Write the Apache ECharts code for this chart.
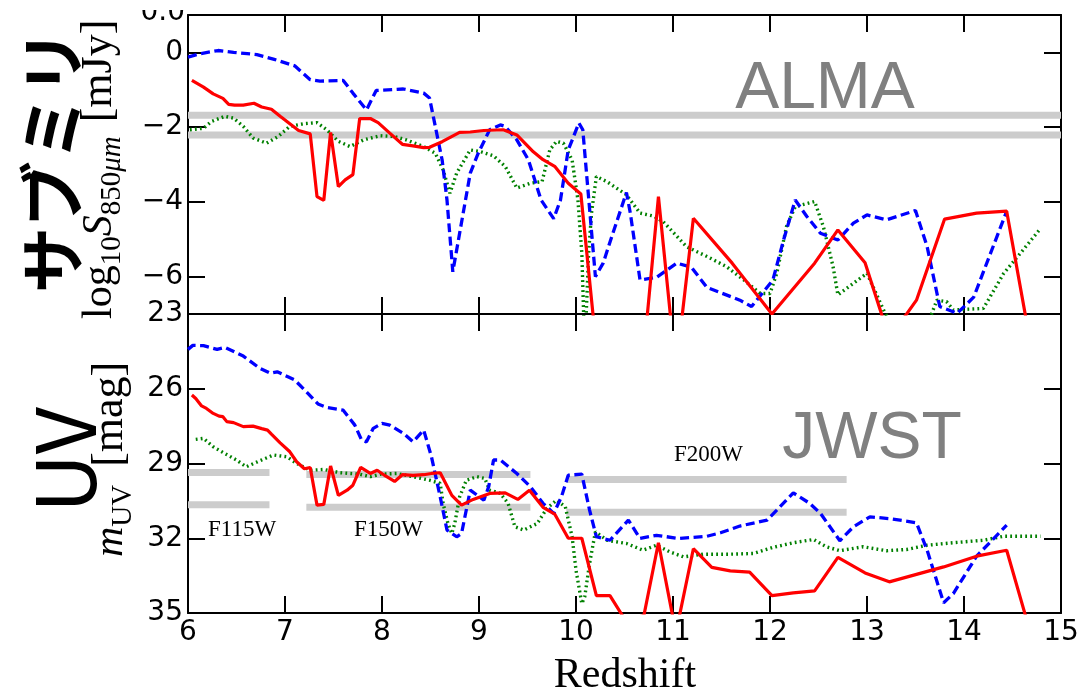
<!DOCTYPE html>
<html><head><meta charset="utf-8">
<script src="https://cdn.jsdelivr.net/npm/echarts@6/dist/echarts.min.js"></script>
<style>html,body{margin:0;padding:0;background:#fff}#c{width:1084px;height:691px}</style>
</head><body><div id="c"></div>
<script>
// ---------- data ----------
const redTop = [[6.04,-0.75],[6.16,-0.93],[6.26,-1.11],[6.36,-1.23],[6.42,-1.39],[6.48,-1.41],[6.57,-1.41],[6.68,-1.36],[6.76,-1.46],[6.86,-1.52],[6.95,-1.71],[7.05,-1.91],[7.14,-2.09],[7.26,-2.18],[7.33,-3.86],[7.40,-3.96],[7.47,-2.14],[7.55,-3.59],[7.62,-3.41],[7.70,-3.27],[7.77,-1.77],[7.88,-1.77],[7.96,-1.88],[8.08,-2.16],[8.21,-2.46],[8.32,-2.50],[8.43,-2.55],[8.49,-2.54],[8.62,-2.39],[8.80,-2.14],[8.91,-2.13],[9.05,-2.09],[9.25,-2.07],[9.39,-2.21],[9.56,-2.66],[9.66,-2.87],[9.78,-3.05],[9.92,-3.50],[10.05,-3.79],[10.21,-7.9],[10.35,-9.0],[10.51,-9.5],[10.70,-8.0],[10.85,-3.86],[11.03,-8.5],[11.21,-4.44],[11.61,-5.64],[12.02,-7.0],[12.46,-5.64],[12.70,-4.75],[12.98,-5.63],[13.23,-7.65],[13.51,-6.63],[13.80,-4.46],[14.13,-4.30],[14.44,-4.25],[14.70,-8.0]];
const blueTop = [[6.0,-0.125],[6.12,-0.04],[6.31,0.05],[6.47,0.0],[6.71,-0.06],[6.88,-0.18],[7.10,-0.36],[7.26,-0.73],[7.36,-0.77],[7.60,-0.75],[7.70,-1.09],[7.84,-1.54],[7.94,-1.02],[8.22,-0.98],[8.43,-1.09],[8.49,-1.22],[8.62,-2.88],[8.67,-3.95],[8.73,-5.87],[8.91,-3.23],[8.99,-2.71],[9.11,-2.07],[9.22,-1.94],[9.27,-1.98],[9.39,-2.34],[9.51,-2.88],[9.64,-3.95],[9.77,-4.45],[9.84,-3.95],[9.92,-2.61],[10.03,-1.89],[10.07,-2.07],[10.20,-6.0],[10.28,-5.64],[10.38,-4.84],[10.52,-3.75],[10.56,-4.30],[10.66,-6.09],[10.83,-6.02],[11.04,-5.64],[11.19,-5.75],[11.35,-6.29],[11.49,-6.43],[11.69,-6.63],[11.81,-6.80],[12.03,-6.09],[12.14,-5.02],[12.26,-3.95],[12.38,-4.39],[12.52,-4.84],[12.70,-5.02],[12.86,-4.57],[13.0,-4.35],[13.20,-4.48],[13.50,-4.23],[13.62,-5.20],[13.75,-6.80],[13.93,-6.98],[14.10,-6.55],[14.44,-4.25]];
const greenTop = [[6.02,-2.07],[6.16,-2.03],[6.24,-1.85],[6.38,-1.71],[6.47,-1.76],[6.57,-1.98],[6.67,-2.29],[6.81,-2.43],[6.93,-2.25],[7.05,-1.98],[7.19,-1.91],[7.33,-1.88],[7.43,-2.07],[7.55,-2.38],[7.67,-2.52],[7.81,-2.34],[7.98,-2.23],[8.12,-2.25],[8.25,-2.34],[8.43,-2.52],[8.55,-2.70],[8.63,-3.14],[8.70,-3.77],[8.77,-3.23],[8.91,-2.61],[9.01,-2.65],[9.15,-2.77],[9.27,-3.05],[9.39,-3.63],[9.53,-3.50],[9.65,-3.46],[9.73,-2.61],[9.80,-2.38],[9.87,-2.43],[9.96,-2.88],[10.02,-3.95],[10.06,-5.38],[10.09,-8.0],[10.13,-5.38],[10.16,-4.30],[10.21,-3.32],[10.32,-3.46],[10.52,-3.81],[10.66,-4.30],[10.80,-4.38],[10.90,-4.53],[11.14,-5.20],[11.35,-5.46],[11.55,-5.73],[11.73,-6.09],[11.90,-6.45],[12.0,-6.45],[12.07,-5.91],[12.17,-4.66],[12.26,-4.13],[12.46,-3.99],[12.55,-4.66],[12.65,-5.73],[12.70,-6.49],[12.86,-6.18],[13.0,-5.91],[13.17,-6.89],[13.40,-8.0],[13.55,-7.8],[13.72,-6.63],[13.82,-6.67],[13.89,-6.89],[14.20,-6.85],[14.41,-5.91],[14.58,-5.38],[14.79,-4.71]];

const redUV = [[6.04,26.25],[6.08,26.39],[6.14,26.69],[6.19,26.79],[6.26,26.99],[6.32,27.10],[6.36,27.12],[6.40,27.32],[6.47,27.36],[6.57,27.52],[6.67,27.50],[6.76,27.60],[6.82,27.66],[6.86,27.82],[6.95,28.17],[7.05,28.53],[7.12,28.93],[7.20,29.21],[7.26,29.16],[7.33,30.67],[7.40,30.64],[7.47,29.10],[7.55,30.28],[7.64,30.07],[7.70,29.87],[7.78,29.16],[7.88,29.40],[7.95,29.27],[8.04,29.51],[8.13,29.72],[8.21,29.45],[8.32,29.48],[8.43,29.45],[8.51,29.40],[8.60,29.37],[8.72,30.28],[8.82,30.67],[8.94,30.44],[9.11,30.20],[9.27,30.18],[9.40,30.44],[9.52,30.07],[9.66,30.76],[9.78,31.03],[9.92,32.00],[10.06,32.00],[10.21,34.30],[10.35,34.30],[10.51,35.3],[10.70,35.1],[10.85,32.18],[11.03,35.8],[11.21,32.42],[11.40,33.17],[11.59,33.31],[11.79,33.36],[12.02,34.30],[12.24,34.19],[12.46,34.11],[12.70,32.77],[12.98,33.39],[13.23,33.75],[13.51,33.45],[13.79,33.15],[14.13,32.72],[14.44,32.48],[14.70,36.0]];
const blueUV = [[6.0,24.42],[6.05,24.26],[6.16,24.27],[6.30,24.42],[6.38,24.34],[6.57,24.69],[6.74,25.18],[6.85,25.38],[6.92,25.32],[7.10,25.65],[7.22,26.12],[7.34,26.61],[7.43,26.75],[7.60,26.86],[7.72,27.46],[7.79,28.06],[7.84,28.13],[7.91,27.59],[8.0,27.39],[8.08,27.46],[8.22,27.79],[8.32,28.13],[8.43,27.66],[8.51,28.73],[8.60,30.34],[8.67,31.67],[8.77,31.94],[8.82,31.81],[8.91,30.07],[9.05,30.47],[9.10,29.93],[9.15,28.86],[9.22,28.86],[9.39,29.40],[9.53,29.93],[9.66,30.60],[9.77,31.0],[9.85,30.34],[9.92,29.47],[10.06,29.43],[10.14,30.87],[10.21,31.94],[10.35,32.08],[10.54,31.27],[10.66,32.01],[10.83,31.88],[11.06,32.01],[11.35,31.92],[11.49,31.78],[11.69,31.51],[11.97,31.27],[12.07,30.87],[12.24,30.18],[12.41,30.60],[12.52,31.0],[12.72,32.10],[12.86,31.54],[13.03,31.14],[13.25,31.22],[13.51,31.38],[13.62,32.48],[13.79,34.59],[13.89,34.22],[14.13,32.72],[14.44,31.47]];
const greenUV = [[6.08,28.03],[6.16,27.99],[6.26,28.33],[6.38,28.60],[6.50,28.86],[6.60,29.13],[6.74,28.89],[6.88,28.66],[7.02,28.73],[7.12,29.0],[7.26,29.27],[7.40,29.24],[7.57,29.37],[7.77,29.43],[7.88,29.53],[7.98,29.43],[8.15,29.40],[8.32,29.53],[8.49,29.67],[8.60,29.80],[8.63,30.60],[8.68,31.41],[8.72,31.81],[8.75,31.41],[8.80,30.34],[8.87,29.67],[8.98,29.53],[9.06,29.60],[9.11,30.07],[9.22,30.20],[9.30,30.60],[9.37,31.54],[9.46,31.67],[9.60,31.41],[9.70,30.80],[9.80,30.47],[9.89,30.74],[9.96,31.94],[10.0,33.28],[10.06,34.62],[10.09,34.35],[10.14,33.01],[10.20,31.74],[10.32,32.08],[10.52,32.21],[10.69,32.48],[10.83,32.28],[10.97,32.55],[11.11,32.75],[11.31,32.64],[11.59,32.64],[11.83,32.61],[12.03,32.37],[12.24,32.18],[12.45,32.05],[12.58,32.34],[12.72,32.50],[12.96,32.34],[13.20,32.50],[13.41,32.45],[13.62,32.28],[13.89,32.18],[14.20,32.08],[14.41,31.92],[14.79,31.92]];

const almaLimits = [-1.68, -2.21];
const filterNames = ['F115W', 'F150W', 'F200W'];
const filterStart = [6.0, 7.22, 9.9];
const filterEnd = [6.84, 9.53, 12.79];
const filterBright = [29.36, 29.44, 29.64];
const filterFaint = [30.66, 30.76, 30.96];

const zRange = [6, 15];
const zTicks = [6, 7, 8, 9, 10, 11, 12, 13, 14, 15];
const yTicksTop = [-6, -4, -2, 0];
const yRangeTop = [-7, 1];
const yTicksUV = [23, 26, 29, 32, 35];
const yRangeUV = [23, 35];

// ---------- chart ----------
const chart = echarts.init(document.getElementById('c'), null, {renderer: 'canvas', width: 1084, height: 691});
const L = 188, R = 23, T = 15, H = 299;
function tickOpt(vals) {
  return {show: true, inside: true, length: 17, customValues: vals, lineStyle: {color: '#000', width: 2}};
}
function labOpt(vals, margin) {
  return {show: true, customValues: vals, fontFamily: 'DejaVu Sans', fontSize: 28, color: '#000', margin: margin,
    formatter: v => (v < 0 ? '\u2212' : '') + Math.abs(v)};
}
function xAx(grid, pos, showLab) {
  return {type: 'value', gridIndex: grid, position: pos, min: zRange[0], max: zRange[1],
    axisLine: {show: true, onZero: false, lineStyle: {color: '#000', width: 2}},
    axisTick: tickOpt(zTicks.slice(1, -1)), splitLine: {show: false},
    axisLabel: showLab ? labOpt(zTicks, 6) : {show: false}};
}
function yAx(grid, pos, range, ticks, showLab, inverse) {
  return {type: 'value', gridIndex: grid, position: pos, min: range[0], max: range[1], inverse: !!inverse,
    axisLine: {show: true, onZero: false, lineStyle: {color: '#000', width: 2}}, splitLine: {show: false},
    axisTick: tickOpt(ticks),
    axisLabel: showLab ? labOpt(ticks, 5) : {show: false}};
}
function line(data, xi, yi, ls, z) {
  return {type: 'line', xAxisIndex: xi, yAxisIndex: yi, data: data, showSymbol: false, symbol: 'none',
    silent: true, animation: false, clip: true, z: z, lineStyle: ls};
}
const redS = {color: '#ff0000', width: 3.2};
const blueS = {color: '#0000ff', width: 3.3, type: [9, 4.5]};
const greenS = {color: '#008000', width: 3.4, type: [1.8, 3.2]};
const grayS = {color: '#cccccc', width: 7};

const series = [];
almaLimits.forEach(v => series.push(line([[zRange[0], v], [zRange[1], v]], 0, 0, grayS, 1)));
filterNames.forEach((n, i) => {
  series.push(line([[filterStart[i], filterBright[i]], [filterEnd[i], filterBright[i]]], 2, 2, grayS, 1));
  series.push(line([[filterStart[i], filterFaint[i]], [filterEnd[i], filterFaint[i]]], 2, 2, grayS, 1));
});
series.push(line(greenTop, 0, 0, greenS, 2));
series.push(line(blueTop, 0, 0, blueS, 3));
series.push(line(redTop, 0, 0, redS, 4));
series.push(line(greenUV, 2, 2, greenS, 2));
series.push(line(blueUV, 2, 2, blueS, 3));
series.push(line(redUV, 2, 2, redS, 4));

// math-style rotated labels
const mctx = document.createElement('canvas').getContext('2d');
function mathLabel(parts, ox, oy) {
  let cx = 0; const kids = [];
  parts.forEach(p => {
    if (p.gap) { cx += p.gap; return; }
    const fam = 'Liberation Serif';
    mctx.font = (p.it ? 'italic ' : '') + p.fs + 'px "' + fam + '"';
    const w = mctx.measureText(p.t).width;
    kids.push({type: 'text', x: cx, y: p.dy - 0.3375 * p.fs,
      style: {text: p.t, fontFamily: fam, fontSize: p.fs, fontStyle: p.it ? 'italic' : 'normal',
        fill: '#000', align: 'left', verticalAlign: 'middle'}});
    cx += w;
  });
  return {type: 'group', x: ox, y: oy, rotation: Math.PI / 2, children: kids};
}
const MF = 42, SF = 29, SD = 8;
const topLabel = mathLabel([
  {t: 'log', fs: MF, dy: 0}, {t: '10', fs: SF, dy: SD}, {t: 'S', fs: MF, it: true, dy: 0},
  {t: '850', fs: SF, dy: SD}, {t: '\u03bcm', fs: SF, it: true, dy: SD}, {gap: 14},
  {t: '[mJy]', fs: MF + 2, dy: 0}], 114, 319);
const botLabel = mathLabel([
  {t: 'm', fs: MF, it: true, dy: 0}, {t: 'UV', fs: SF, dy: SD}, {gap: 18},
  {t: '[mag]', fs: MF + 2, dy: 0}], 125, 557);

function txt(t, x, y, o) {
  return {type: 'text', x: x, y: y, rotation: o.rot || 0, z: 50,
    style: {text: t, fontFamily: o.fam, fontSize: o.fs, fontWeight: o.fw || 'normal', fill: o.col || '#000',
      align: o.al || 'center', verticalAlign: 'middle'}};
}

chart.setOption({
  animation: false,
  backgroundColor: '#fff',
  grid: [
    {left: L, right: R, top: T, height: H, show: false, outerBoundsMode: 'none', containLabel: false},
    {left: L, right: R, top: T + H, height: H, show: false, outerBoundsMode: 'none', containLabel: false}
  ],
  xAxis: [xAx(0, 'bottom', false), xAx(0, 'top', false), xAx(1, 'bottom', true), xAx(1, 'top', false)],
  yAxis: [yAx(0, 'left', yRangeTop, yTicksTop, true), yAx(0, 'right', yRangeTop, yTicksTop, false),
          yAx(1, 'left', yRangeUV, yTicksUV, true, true), yAx(1, 'right', yRangeUV, yTicksUV.slice(1, 4), false, true)],
  series: series,
  graphic: [
    txt('0.0', 185, 13, {fam: 'DejaVu Sans', fs: 28, al: 'right'}),
    {type: 'rect', shape: {x: 120, y: 0, width: 67, height: 10}, style: {fill: '#fff'}, z: 60},
    txt('\u30b5\u30d6\u30df\u30ea', 52, 161, {fam: 'Noto Sans CJK JP', fs: 66, fw: 'bold', rot: Math.PI / 2}),
    txt('UV', 65, 460, {fam: 'Noto Sans CJK JP', fs: 82, rot: Math.PI / 2}),
    topLabel, botLabel,
    txt('ALMA', 825, 90, {fam: 'Liberation Sans', fs: 66, col: '#808080'}),
    txt('JWST', 872, 440, {fam: 'Liberation Sans', fs: 66, col: '#808080'}),
    txt(filterNames[0], 208, 530, {fam: 'Liberation Serif', fs: 23, al: 'left'}),
    txt(filterNames[1], 354, 530, {fam: 'Liberation Serif', fs: 23, al: 'left'}),
    txt(filterNames[2], 674, 455, {fam: 'Liberation Serif', fs: 23, al: 'left'}),
    txt('Redshift', 625, 676, {fam: 'Liberation Serif', fs: 42})
  ]
});
</script></body></html>
